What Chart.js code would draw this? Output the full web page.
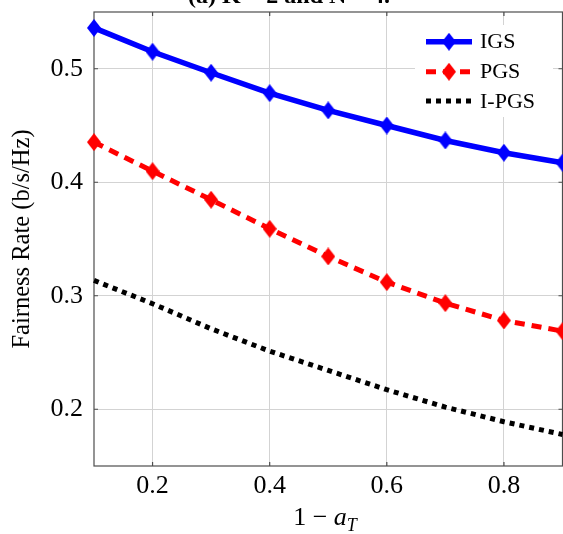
<!DOCTYPE html>
<html>
<head>
<meta charset="utf-8">
<script src="https://cdn.jsdelivr.net/npm/chart.js@4.4.1/dist/chart.umd.min.js"></script>
<style>
  html, body { margin: 0; padding: 0; background: #fff; overflow: hidden; }
  canvas { display: block; }
</style>
</head>
<body>
<canvas id="myChart" width="563" height="534"></canvas>
<script>
// values
var xValues = [0.1, 0.2, 0.3, 0.4, 0.5, 0.6, 0.7, 0.8, 0.9];
var igs  = [0.536, 0.515, 0.4965, 0.4785, 0.4633, 0.450, 0.4368, 0.426, 0.4172];
var pgs  = [0.4353, 0.4098, 0.3846, 0.359, 0.3346, 0.312, 0.2935, 0.2782, 0.2688];
var ipgs = [0.3135, 0.293, 0.2709, 0.2512, 0.2342, 0.2172, 0.2019, 0.189, 0.1778];
var xTicks = [0.2, 0.4, 0.6, 0.8];
var yTicks = [0.2, 0.3, 0.4, 0.5];
var seriesNames = ['IGS', 'PGS', 'I-PGS'];
var titleText = '(a) K = 2 and N = 4.';
var yAxisTitle = 'Fairness Rate (b/s/Hz)';

var serif = "'Liberation Serif', 'Times New Roman', serif";

function diamond(color) {
    var c = document.createElement('canvas');
    c.width = 14; c.height = 18;
    var g = c.getContext('2d');
    g.fillStyle = color;
    g.beginPath();
    g.moveTo(7, 0); g.lineTo(14, 9); g.lineTo(7, 18); g.lineTo(0, 9);
    g.closePath();
    g.fill();
    return c;
}

function pts(ys) {
    return xValues.map(function(x, i) { return { x: x, y: ys[i] }; });
}

var extras = {
    id: 'extras',
    beforeDatasetsDraw: function(chart) {
        var a = chart.chartArea, ctx = chart.ctx;
        ctx.save();
        ctx.strokeStyle = '#4d4d4d';
        ctx.lineWidth = 1.2;
        ctx.strokeRect(a.left, a.top, a.right - a.left, a.bottom - a.top);
        ctx.beginPath();
        xTicks.forEach(function(v) {
            var px = chart.scales.x.getPixelForValue(v);
            ctx.moveTo(px, a.bottom); ctx.lineTo(px, a.bottom - 4);
            ctx.moveTo(px, a.top); ctx.lineTo(px, a.top + 4);
        });
        yTicks.forEach(function(v) {
            var py = chart.scales.y.getPixelForValue(v);
            ctx.moveTo(a.left, py); ctx.lineTo(a.left + 4, py);
            ctx.moveTo(a.right, py); ctx.lineTo(a.right - 4, py);
        });
        ctx.stroke();
        ctx.restore();
    },
    afterDraw: function(chart) {
        var ctx = chart.ctx;
        ctx.save();
        // title, mostly above the visible area
        ctx.fillStyle = '#000';
        ctx.font = 'bold 24px ' + serif;
        ctx.textAlign = 'center';
        ctx.textBaseline = 'alphabetic';
        ctx.fillText(titleText, 289, 2.5);

        // x axis title: 1 − a_T
        ctx.textAlign = 'left';
        var p1 = '1 \u2212 ';
        ctx.font = '26px ' + serif;
        var w1 = ctx.measureText(p1).width;
        ctx.font = 'italic 26px ' + serif;
        var w2 = ctx.measureText('a').width;
        ctx.font = 'italic 18px ' + serif;
        var w3 = ctx.measureText('T').width;
        var x0 = 325 - (w1 + w2 + w3) / 2;
        ctx.font = '26px ' + serif;
        ctx.fillText(p1, x0, 525);
        ctx.font = 'italic 26px ' + serif;
        ctx.fillText('a', x0 + w1, 525);
        ctx.font = 'italic 18px ' + serif;
        ctx.fillText('T', x0 + w1 + w2, 531);

        // legend
        ctx.fillStyle = '#fff';
        ctx.fillRect(415, 25, 138, 92);
        var rows = [41.7, 71.7, 101];
        chart.data.datasets.forEach(function(ds, i) {
            var y = rows[i];
            ctx.save();
            ctx.strokeStyle = ds.borderColor;
            ctx.lineWidth = ds.borderWidth;
            ctx.setLineDash(ds.borderDash || []);
            ctx.beginPath();
            ctx.moveTo(426, y); ctx.lineTo(472, y);
            ctx.stroke();
            ctx.restore();
            if (ds.pointStyle && ds.pointRadius > 0) {
                ctx.drawImage(ds.pointStyle, 449 - 7, y - 9);
            }
            ctx.fillStyle = '#000';
            ctx.font = '22px ' + serif;
            ctx.textBaseline = 'middle';
            ctx.fillText(ds.label, 480, y + 1);
        });
        ctx.restore();
    }
};

var ctx = document.getElementById('myChart').getContext('2d');
var myChart = new Chart(ctx, {
    type: 'line',
    data: {
        datasets: [{
            label: seriesNames[0],
            data: pts(igs),
            borderColor: '#0000ff',
            borderWidth: 5.5,
            pointStyle: diamond('#0000ff'),
            pointRadius: 8,
            clip: false
        }, {
            label: seriesNames[1],
            data: pts(pgs),
            borderColor: '#ff0000',
            borderWidth: 5,
            borderDash: [10, 7],
            borderCapStyle: 'butt',
            pointStyle: diamond('#ff0000'),
            pointRadius: 8,
            clip: false
        }, {
            label: seriesNames[2],
            data: pts(ipgs),
            borderColor: '#000000',
            borderWidth: 5,
            borderDash: [5, 5],
            borderCapStyle: 'butt',
            pointRadius: 0,
            clip: false
        }]
    },
    options: {
        responsive: false,
        animation: false,
        events: [],
        layout: { autoPadding: false, padding: { top: 12, right: 0.5, left: 0, bottom: 0 } },
        plugins: {
            legend: { display: false },
            tooltip: { enabled: false }
        },
        scales: {
            x: {
                type: 'linear',
                min: 0.1,
                max: 0.9,
                afterBuildTicks: function(s) { s.ticks = xTicks.map(function(v) { return { value: v }; }); },
                afterFit: function(s) { s.height = 68; s.paddingLeft = 0; s.paddingRight = 0; },
                grid: { color: '#d3d3d3', lineWidth: 1, drawTicks: false },
                border: { display: false },
                ticks: {
                    font: { family: serif, size: 26 },
                    color: '#000',
                    padding: 5,
                    maxRotation: 0,
                    callback: function(v) { return v.toFixed(1); }
                }
            },
            y: {
                min: 0.15,
                max: 0.55,
                afterBuildTicks: function(s) { s.ticks = yTicks.map(function(v) { return { value: v }; }); },
                afterFit: function(s) { s.width = 94; s.paddingTop = 0; s.paddingBottom = 0; },
                grid: { color: '#d3d3d3', lineWidth: 1, drawTicks: false },
                border: { display: false },
                title: {
                    display: true,
                    text: yAxisTitle,
                    font: { family: serif, size: 24.5 },
                    color: '#000',
                    padding: { top: 8, bottom: 0 }
                },
                ticks: {
                    font: { family: serif, size: 26 },
                    color: '#000',
                    padding: 11,
                    callback: function(v) { return v.toFixed(1); }
                }
            }
        }
    },
    plugins: [extras]
});
</script>
</body>
</html>
